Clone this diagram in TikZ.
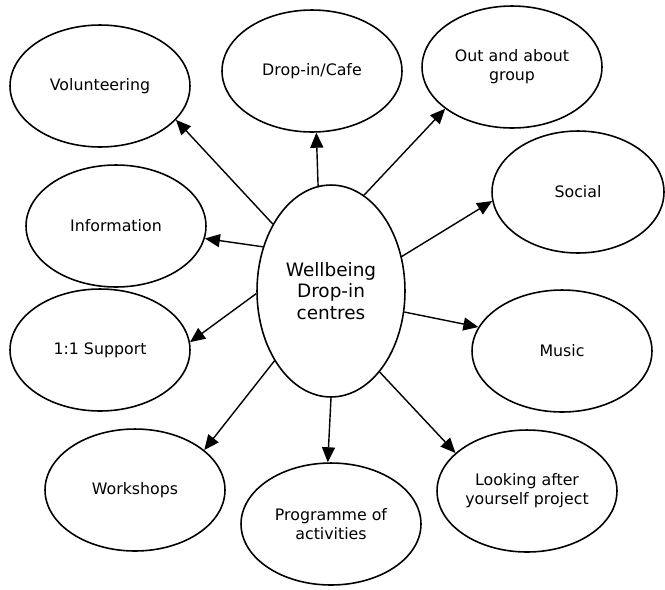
\documentclass[tikz,border=0pt]{standalone}
\usepackage{fontspec}
\setmainfont{DejaVu Sans}
\usetikzlibrary{shapes.geometric,arrows.meta}
\begin{document}
\begin{tikzpicture}[x=0.02cm,y=-0.02cm,
  bubble/.style={ellipse, draw, line width=0.9pt, minimum width=3.6cm, minimum height=2.44cm, inner sep=0pt, align=center, font=\fontsize{9}{10.8}\selectfont},
  hub/.style={ellipse, draw, line width=0.9pt, minimum width=2.96cm, minimum height=4.24cm, inner sep=0pt, align=center, font=\fontsize{10.5}{12.2}\selectfont},
  link/.style={line width=0.8pt, -{Triangle[length=0.3cm,width=0.26cm]}}]
\useasboundingbox (0,0) rectangle (665,589);
\node[hub] (wb) at (331,291){Wellbeing\\Drop-in\\centres};
\node[bubble] (vol) at (100,86){Volunteering};
\node[bubble] (cafe) at (312,71){Drop-in/Cafe};
\node[bubble] (out) at (512,67){Out and about\\group};
\node[bubble, minimum width=3.44cm] (social) at (578,192){Social};
\node[bubble] (info) at (116,226){Information};
\node[bubble] (supp) at (100,350){1:1 Support};
\node[bubble] (music) at (562,351){Music};
\node[bubble] (work) at (135,490){Workshops};
\node[bubble] (prog) at (331,524){Programme of\\activities};
\node[bubble] (look) at (527,491){Looking after\\yourself project};
\draw[link] (wb.131) -- (vol.-24);
\draw[link] (wb.147) -- (info.-8);
\draw[link] (wb.97) -- (cafe.-86);
\draw[link] (wb.71) -- (out.212);
\draw[link] (wb.26) -- (social.186);
\draw[link] (wb.-16) -- (music.164);
\draw[link] (wb.-59) -- (look.152);
\draw[link] (wb.-90) -- (prog.93);
\draw[link] (wb.231) -- (work.30);
\draw[link] (wb.182) -- (supp.5);
\end{tikzpicture}
\end{document}
